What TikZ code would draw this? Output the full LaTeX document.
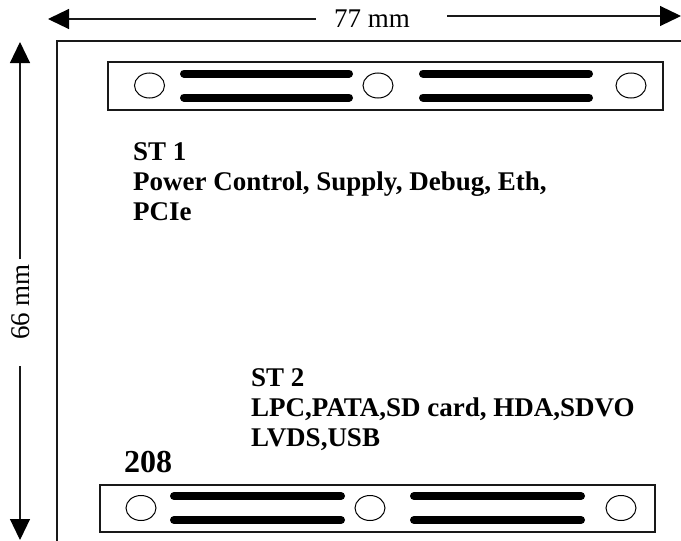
\documentclass[tikz,border=0pt]{standalone}
\usepackage{fontspec}
\setmainfont{Liberation Serif}
\usetikzlibrary{arrows.meta,shapes.geometric}
\tikzset{
 x=1pt,y=-1pt,
 frame/.style={line width=1.2pt,black!90},
 hole/.style={draw,line width=1pt,ellipse,minimum width=30pt,minimum height=25pt,inner sep=0pt},
 slot/.style={line width=8pt,line cap=round,black},
 dim/.style={line width=1.2pt,black!90,-{Triangle[length=21pt,width=20pt,fill=black,color=black]}},
 lab/.style={anchor=base west,inner sep=0pt,font=\fontsize{27}{27}\selectfont\bfseries},
 dimlab/.style={inner sep=0pt,anchor=base,font=\fontsize{27}{27}\selectfont},
}
\begin{document}
\begin{tikzpicture}
\useasboundingbox (0,0) rectangle (681,541);
\coordinate (fa) at (57,541);\coordinate (fb) at (57,41);\coordinate (fc) at (681,41);
\draw[frame] (fa)--(fb)--(fc);
% top connector
\node[draw,frame,minimum width=555pt,minimum height=48pt,inner sep=0pt] (c1) at (385.5,86) {};
\node[hole] (h1) at (149.5,85.5) {};
\node[hole] (h2) at (378,85.5) {};
\node[hole] (h3) at (631,85.5) {};
\coordinate (a1) at (184,73.5);\coordinate (a2) at (349,73.5);
\coordinate (a3) at (184,97.5);\coordinate (a4) at (349,97.5);
\coordinate (a5) at (423,73.5);\coordinate (a6) at (589,73.5);
\coordinate (a7) at (423,97.5);\coordinate (a8) at (589,97.5);
\draw[slot] (a1)--(a2);\draw[slot] (a3)--(a4);\draw[slot] (a5)--(a6);\draw[slot] (a7)--(a8);
% bottom connector
\node[draw,frame,minimum width=555pt,minimum height=47pt,inner sep=0pt] (c2) at (377.5,508.5) {};
\node[hole] (h4) at (141,508) {};
\node[hole] (h5) at (370,508) {};
\node[hole] (h6) at (621,508) {};
\coordinate (b1) at (174,496);\coordinate (b2) at (341,496);
\coordinate (b3) at (174,520);\coordinate (b4) at (341,520);
\coordinate (b5) at (414,496);\coordinate (b6) at (581,496);
\coordinate (b7) at (414,520);\coordinate (b8) at (581,520);
\draw[slot] (b1)--(b2);\draw[slot] (b3)--(b4);\draw[slot] (b5)--(b6);\draw[slot] (b7)--(b8);
% dimensions
\node[dimlab] (w) at (372,27) {77 mm};
\coordinate (wl) at (48,19);\coordinate (wls) at (316,19);
\coordinate (wr) at (681,16);\coordinate (wrs) at (447,16);
\draw[dim] (wls)--(wl);
\draw[dim] (wrs)--(wr);
\node[dimlab,rotate=90] (hh) at (30,302) {66 mm};
\coordinate (vt) at (20,42);\coordinate (vts) at (20,259);
\coordinate (vb) at (20,540);\coordinate (vbs) at (20,366);
\draw[dim] (vts)--(vt);
\draw[dim] (vbs)--(vb);
% labels
\node[lab] (t1) at (133,160) {ST 1};
\node[lab] (t2) at (133,190.5) {Power Control, Supply, Debug, Eth,};
\node[lab] (t3) at (133,220.5) {PCIe};
\node[lab] (t4) at (251,386) {ST 2};
\node[lab] (t5) at (251,416.5) {LPC,PATA,SD card, HDA,SDVO};
\node[lab] (t6) at (251,446) {LVDS,USB};
\node[lab,font=\fontsize{32}{32}\selectfont\bfseries] (t7) at (124,472) {208};
\end{tikzpicture}
\end{document}
